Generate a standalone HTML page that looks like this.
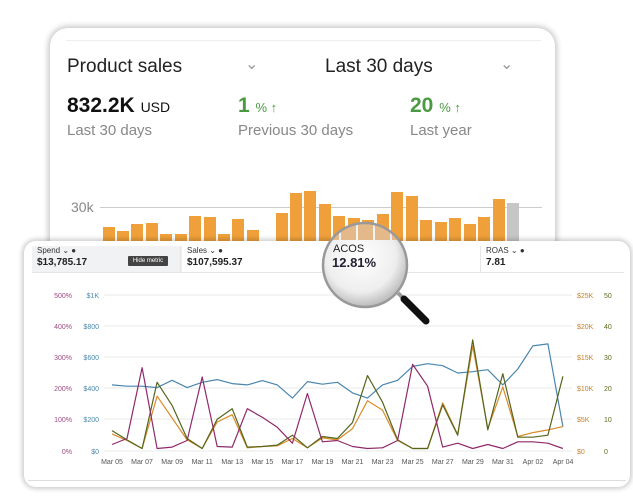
<!DOCTYPE html>
<html><head><meta charset="utf-8"><style>
body{margin:0;width:633px;height:498px;background:#fff;overflow:hidden;position:relative;font-family:"Liberation Sans",sans-serif}
.a{position:absolute;white-space:nowrap}
</style></head><body>
<div class="a" style="left:50px;top:28px;width:505px;height:240px;border-radius:18px;background:#fff;box-shadow:0 0 6px 2px rgba(0,0,0,0.22)"></div>
<div class="a" style="left:66px;top:40px;width:475px;height:1px;background:#eee"></div>
<div class="a" style="left:67px;top:56px;font-size:19px;color:#222">Product sales</div>
<div class="a" style="left:245px;top:54px;font-size:16px;color:#999">&#8964;</div>
<div class="a" style="left:325px;top:56px;font-size:19px;color:#222">Last 30 days</div>
<div class="a" style="left:500px;top:54px;font-size:16px;color:#999">&#8964;</div>
<div class="a" style="left:67px;top:94px;font-size:21px;font-weight:bold;color:#111">832.2K <span style="font-size:14px;font-weight:normal">USD</span></div>
<div class="a" style="left:67px;top:122px;font-size:15px;color:#888">Last 30 days</div>
<div class="a" style="left:238px;top:94px;font-size:21px;font-weight:bold;color:#4a9a40">1 <span style="font-size:13px;font-weight:normal">% &#8593;</span></div>
<div class="a" style="left:238px;top:122px;font-size:15px;color:#888">Previous 30 days</div>
<div class="a" style="left:410px;top:94px;font-size:21px;font-weight:bold;color:#4a9a40">20 <span style="font-size:13px;font-weight:normal">% &#8593;</span></div>
<div class="a" style="left:410px;top:122px;font-size:15px;color:#888">Last year</div>
<div class="a" style="left:71px;top:199px;font-size:14px;color:#888">30k</div>
<div class="a" style="left:100px;top:207px;width:442px;height:1px;background:#ccc"></div>
<svg class="a" style="left:0;top:0" width="633" height="260" id="bars"></svg>

<div class="a" style="left:24px;top:241px;width:606px;height:246px;border-radius:12px;background:#fff;box-shadow:0 0 5px 2px rgba(0,0,0,0.2)"></div>
<div class="a" style="left:32px;top:246px;width:150px;height:26px;background:#f1f2f3"></div>
<div class="a" style="left:32px;top:272px;width:592px;height:1px;background:#e6e6e6"></div>
<div class="a" style="left:180px;top:246px;width:1px;height:26px;background:#e6e6e6"></div>
<div class="a" style="left:480px;top:246px;width:1px;height:26px;background:#e6e6e6"></div>
<div class="a" style="left:37px;top:246px;font-size:8px;color:#333">Spend &#8964; &#9679;</div>
<div class="a" style="left:37px;top:257px;font-size:10px;font-weight:bold;color:#222">$13,785.17</div>
<div class="a" style="left:128px;top:256px;width:40px;height:10px;background:#444;color:#fff;font-size:6px;line-height:10px;text-align:center;border-radius:1px">Hide metric</div>
<div class="a" style="left:187px;top:246px;font-size:8px;color:#333">Sales &#8964; &#9679;</div>
<div class="a" style="left:187px;top:257px;font-size:10px;font-weight:bold;color:#222">$107,595.37</div>
<div class="a" style="left:486px;top:246px;font-size:8px;color:#333">ROAS &#8964; &#9679;</div>
<div class="a" style="left:486px;top:257px;font-size:10px;font-weight:bold;color:#222">7.81</div>
<div class="a" style="left:28px;top:480px;width:598px;height:1px;background:#ddd"></div>
<svg class="a" style="left:0;top:0" width="633" height="498" id="ch"></svg>
<script>
var ns="http://www.w3.org/2000/svg";
function el(p,t,a,txt){var e=document.createElementNS(ns,t);for(var k in a)e.setAttribute(k,a[k]);if(txt)e.textContent=txt;p.appendChild(e);return e;}
var B=document.getElementById('bars');
var bars=[[103,227],[117,231],[131,224],[146,223],[160,234],[175,234],[189,216],[204,217],[218,234],[232,219],[247,230],[276,213],[290,193],[304,191],[319,204],[333,216],[348,218],[362,220],[377,214],[391,192],[406,196],[420,220],[435,222],[449,218],[464,224],[478,217],[493,199],[507,203]];
bars.forEach(function(b,i){el(B,'rect',{x:b[0],y:b[1],width:12,height:250-b[1],fill:i==bars.length-1?'#c6c6c6':'#f0a03a'});});
var C=document.getElementById('ch');
var gy=[295,326,357,388,419,451];
var pl=['500%','400%','300%','200%','100%','0%'],dl=['$1K','$800','$600','$400','$200','$0'],ol=['$25K','$20K','$15K','$10K','$5K','$0'],rl=['50','40','30','20','10','0'];
gy.forEach(function(y,i){el(C,'line',{x1:104,x2:572,y1:y,y2:y,stroke:'#e8e8e8','stroke-width':1});
el(C,'text',{x:72,y:y+3,'font-size':7,fill:'#a04a80','text-anchor':'end'},pl[i]);
el(C,'text',{x:99,y:y+3,'font-size':7,fill:'#4a8ab0','text-anchor':'end'},dl[i]);
el(C,'text',{x:577,y:y+3,'font-size':7,fill:'#c8822a'},ol[i]);
el(C,'text',{x:604,y:y+3,'font-size':7,fill:'#5a6a1e'},rl[i]);});
var xl=['Mar 05','Mar 07','Mar 09','Mar 11','Mar 13','Mar 15','Mar 17','Mar 19','Mar 21','Mar 23','Mar 25','Mar 27','Mar 29','Mar 31','Apr 02','Apr 04'];
xl.forEach(function(t,i){el(C,'text',{x:112+i*30.07,y:464,'font-size':7,fill:'#555','text-anchor':'middle'},t);});
function L(v,c){var p=v.map(function(z,i){return (112+i*15.03).toFixed(1)+','+(230+z*0.331).toFixed(1);}).join(' ');el(C,'polyline',{points:p,fill:'none',stroke:c,'stroke-width':1.2,'stroke-linejoin':'round'});}
L([468,472,472,476,454,476,460,452,464,468,455,468,508,458,466,460,492,508,468,454,412,404,410,432,428,422,468,420,350,344,594],'#4a86ae');
L([616,636,660,502,568,634,660,580,558,658,654,652,630,658,628,634,600,516,544,636,660,660,522,618,350,600,474,624,612,604,594],'#d98b2a');
L([606,634,660,460,530,630,660,572,540,656,654,650,620,658,624,630,582,440,520,634,660,660,528,620,332,604,434,626,626,620,442],'#55651c');
L([648,630,416,660,656,636,444,654,656,540,566,596,644,494,640,636,654,660,658,636,406,472,656,644,660,648,660,640,640,644,660],'#8e2a6a');
// magnifier
var d=el(C,'defs',{});var g=el(d,'radialGradient',{id:'lg',cx:'45%',cy:'40%',r:'60%'});
el(g,'stop',{offset:'0%','stop-color':'#fff'});el(g,'stop',{offset:'70%','stop-color':'#eee'});el(g,'stop',{offset:'100%','stop-color':'#bbb'});
var cp=el(d,'clipPath',{id:'cp'});el(cp,'circle',{cx:365,cy:265,r:42});
el(C,'line',{x1:398,y1:293,x2:404,y2:299,stroke:'#999','stroke-width':4});
el(C,'line',{x1:404,y1:299,x2:426,y2:321,stroke:'#111','stroke-width':7,'stroke-linecap':'round'});
el(C,'circle',{cx:365,cy:265,r:42,fill:'url(#lg)'});
var gg=el(C,'g',{'clip-path':'url(#cp)'});
[324,341,358,375,392].forEach(function(x){el(gg,'rect',{x:x,y:215,width:15,height:25,fill:'#e4b98a'});});
el(C,'circle',{cx:365,cy:265,r:42,fill:'none',stroke:'#999','stroke-width':2.5});
el(C,'text',{x:333,y:252,'font-size':11,fill:'#222'},'ACOS');
el(C,'text',{x:332,y:267,'font-size':13,'font-weight':'bold',fill:'#223'},'12.81%');
</script>
</body></html>
